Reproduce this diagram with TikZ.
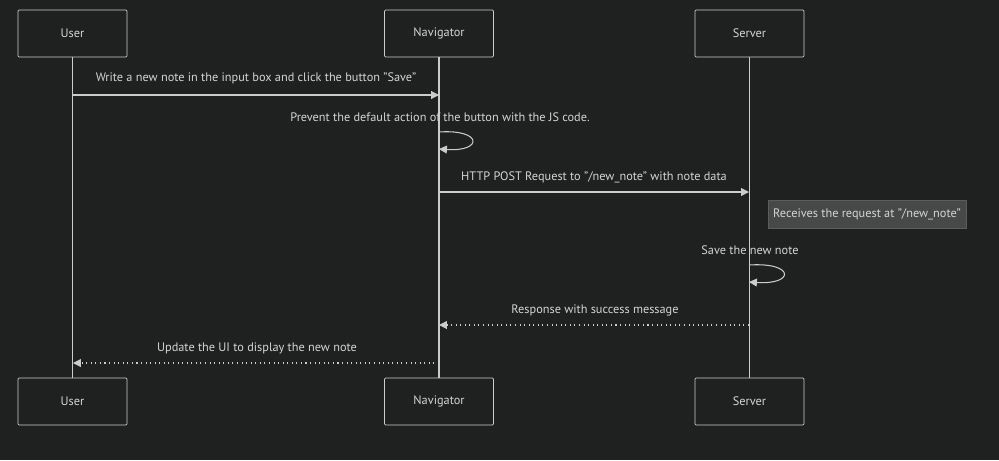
\documentclass[tikz,border=0pt]{standalone}
\usepackage{fontspec}
\setmainfont{PT Sans}
\usepackage{xcolor}
\usetikzlibrary{positioning, arrows.meta}
\definecolor{bgdark}{HTML}{1F2020}
\definecolor{boxfill}{HTML}{1F2121}
\definecolor{linegray}{HTML}{CCCCCC}
\definecolor{txtgray}{HTML}{D4D4D4}
\definecolor{notefill}{HTML}{474949}
\definecolor{noteline}{HTML}{5C5C5C}

\begin{document}
\begin{tikzpicture}[
    x=0.02cm, y=-0.02cm,
    actor/.style={rectangle, draw=linegray, fill=boxfill, rounded corners=0.6pt, minimum width=2.18cm, minimum height=0.94cm, text=txtgray, font=\fontsize{7}{8}\selectfont},
    life/.style={draw=linegray, line width=0.6pt},
    msg/.style={draw=linegray, line width=0.6pt, -{Triangle[length=4.5pt, width=4.5pt]}},
    reply/.style={msg, dotted},
    mlabel/.style={text=txtgray, font=\fontsize{7}{8}\selectfont, inner sep=1pt},
    note/.style={rectangle, draw=noteline, fill=notefill, text=txtgray, font=\fontsize{7}{8}\selectfont, minimum width=3.96cm, minimum height=0.56cm, inner sep=1pt},
    >=Triangle
    ]
    \fill[bgdark] (0,0) rectangle (999,460);

    % participants
    \node[actor] (u1) at (72.5, 33.5) {User};
    \node[actor] (n1) at (439, 33.5) {Navigator};
    \node[actor] (s1) at (749.5, 33.5) {Server};
    \node[actor] (u2) at (72.5, 401.5) {User};
    \node[actor] (n2) at (439, 401.5) {Navigator};
    \node[actor] (s2) at (749.5, 401.5) {Server};

    \draw[life] (u1.south) -- (u2.north);
    \draw[life] (n1.south) -- (n2.north);
    \draw[life] (s1.south) -- (s2.north);

    % messages
    \coordinate (m1a) at (73, 95);
    \coordinate (m1b) at (439, 95);
    \draw[msg] (m1a) -- (m1b);
    \node[mlabel] (l1) at (256, 78) {Write a new note in the input box and click the button "Save"};

    \coordinate (m2a) at (439, 132);
    \coordinate (m2b) at (439, 149);
    \draw[msg] (m2a) .. controls (483, 129) and (483, 152) .. (m2b);
    \node[mlabel] (l2) at (440, 117) {Prevent the default action of the button with the JS code.};

    \coordinate (m3a) at (439, 192);
    \coordinate (m3b) at (749, 192);
    \draw[msg] (m3a) -- (m3b);
    \node[mlabel] (l3) at (594, 177) {HTTP POST Request to "/new\_note" with note data};

    \node[note] (nt) at (867, 214) {Receives the request at "/new\_note"};

    \coordinate (m4a) at (749, 265);
    \coordinate (m4b) at (749, 282);
    \draw[msg] (m4a) .. controls (795, 262) and (795, 285) .. (m4b);
    \node[mlabel] (l4) at (750, 250) {Save the new note};

    \coordinate (m5a) at (749, 325);
    \coordinate (m5b) at (439, 325);
    \draw[reply] (m5a) -- (m5b);
    \node[mlabel] (l5) at (595, 310) {Response with success message};

    \coordinate (m6a) at (439, 363);
    \coordinate (m6b) at (73, 363);
    \draw[reply] (m6a) -- (m6b);
    \node[mlabel] (l6) at (257, 348) {Update the UI to display the new note};
\end{tikzpicture}
\end{document}
